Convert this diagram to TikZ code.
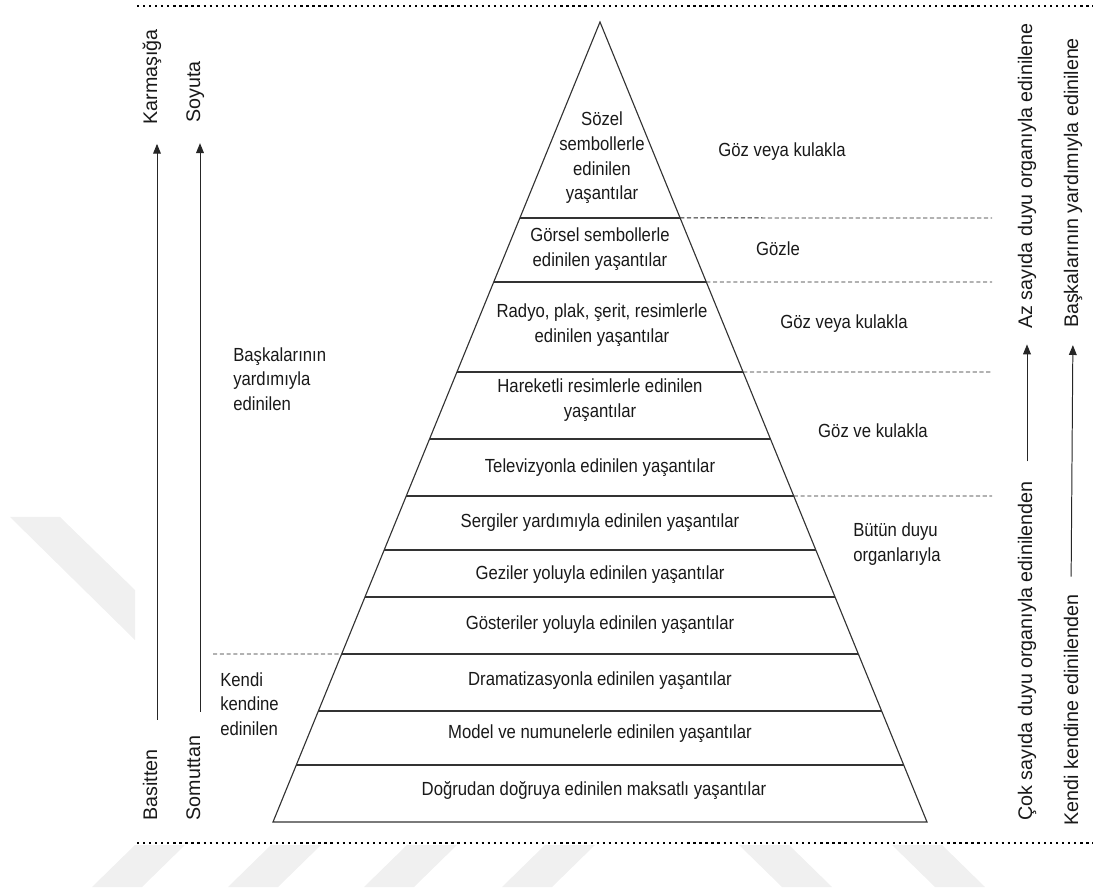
\documentclass[tikz,border=0pt]{standalone}
\usepackage{fontspec}
\setmainfont{Liberation Sans}[FakeStretch=0.88]
\newfontfamily\sidefont{Liberation Sans}
\usetikzlibrary{arrows.meta,calc}

\tikzset{
  lbl/.style={font=\fontsize{13.5}{17.5}\selectfont, text=black!90, inner sep=0pt},
  side/.style={font=\sidefont\fontsize{14}{17}\selectfont, text=black!90, inner sep=0pt, rotate=90},
  layer/.style={draw=black!80, line width=0.8pt},
  gap/.style={draw=black!85, line width=0.7pt, dash pattern=on 3pt off 1.8pt},
  rule/.style={draw=black, line width=1.8pt, dash pattern=on 1.6pt off 2.7pt},
  up/.style={draw=black!85, line width=0.7pt, -{Triangle[length=7pt,width=5.5pt]}},
  wmark/.style={fill=black!6, draw=none},
}

\begin{document}
\begin{tikzpicture}[x=0.025cm, y=-0.025cm]
\useasboundingbox (0,0) rectangle (1093,891);

% watermark
\fill[wmark] (10,517) -- (60,517) -- (135,590) -- (135,640) -- cycle;
\foreach \x in {92,228,364,502}
  \fill[wmark] (\x,887) -- (\x+43,845) -- (\x+93,845) -- (\x+50,887) -- cycle;
\foreach \x in {739,892}
  \fill[wmark] (\x,845) -- (\x+50,845) -- (\x+93,887) -- (\x+43,887) -- cycle;

% dotted rules
\draw[rule] (137,6) -- (1093,6);
\draw[rule] (137,843) -- (1093,843);

% pyramid
\coordinate (top) at (600,22);
\coordinate (bl) at (273,822);
\coordinate (br) at (927,822);
\draw[layer] (bl) -- (top) -- (br) -- cycle;
\foreach \y in {218,282,372,439,496,550,597,654,711,765}
  \draw[layer] ($(top)!{(\y-22)/800}!(bl)$) -- ($(top)!{(\y-22)/800}!(br)$);

% dashed separators
\foreach \y in {218,282,372,496}
  \draw[gap] ($(top)!{(\y-22)/800}!(br)$) -- (992,\y);
\draw[gap] (213,654) -- ($(top)!{632/800}!(bl)$);

% layers
\node[lbl, align=center] (sozel) at (602,158) {Sözel\\sembollerle\\edinilen\\yaşantılar};
\node[lbl, align=center] (gorsel) at (600,249) {Görsel sembollerle\\edinilen yaşantılar};
\node[lbl, align=center] (radyo) at (602,325) {Radyo, plak, şerit, resimlerle\\edinilen yaşantılar};
\node[lbl, align=center] (hareket) at (600,400) {Hareketli resimlerle edinilen\\yaşantılar};
\node[lbl] (tv) at (600,468) {Televizyonla edinilen yaşantılar};
\node[lbl] (sergi) at (600,523) {Sergiler yardımıyla edinilen yaşantılar};
\node[lbl] (gezi) at (600,575) {Geziler yoluyla edinilen yaşantılar};
\node[lbl] (goster) at (600,625) {Gösteriler yoluyla edinilen yaşantılar};
\node[lbl] (drama) at (600,681) {Dramatizasyonla edinilen yaşantılar};
\node[lbl] (model) at (600,734) {Model ve numunelerle edinilen yaşantılar};
\node[lbl] (dogru) at (594,791) {Doğrudan doğruya edinilen maksatlı yaşantılar};

% senses
\node[lbl] (goz1) at (782,152) {Göz veya kulakla};
\node[lbl] (gozle) at (778,249) {Gözle};
\node[lbl] (goz2) at (844,324) {Göz veya kulakla};
\node[lbl] (gozkulak) at (873,431) {Göz ve kulakla};
\node[lbl, align=left, anchor=west] (butun) at (853,544) {Bütün duyu\\organlarıyla};

% left groups
\node[lbl, align=left, anchor=west] (baska) at (233,379) {Başkalarının\\yardımıyla\\edinilen};
\node[lbl, align=left, anchor=west] (kendi) at (220,704) {Kendi\\kendine\\edinilen};

% side axes
\node[side, anchor=base] (karm) at (157,77) {Karmaşığa};
\node[side, anchor=base] (basit) at (157,785) {Basitten};
\node[side, anchor=base] (soyut) at (200,92) {Soyuta};
\node[side, anchor=base] (somut) at (200,778) {Somuttan};
\draw[up, shorten <=21pt, shorten >=13.5pt] (basit.base east) -- (karm.base west);
\draw[up, shorten <=17pt, shorten >=14.4pt] (somut.base east) -- (soyut.base west);

\node[side] (az) at (1027,176) {Az sayıda duyu organıyla edinilene};
\node[side] (cok) at (1027,651) {Çok sayıda duyu organıyla edinilenden};
\node[side] (baskalar) at (1073,183) {Başkalarının yardımıyla edinilene};
\node[side] (kendiside) at (1071,710) {Kendi kendine edinilenden};
\draw[up, shorten <=14pt, shorten >=11pt] (cok.east) -- (az.west);
\draw[up, shorten <=12.5pt, shorten >=12pt] (kendiside.east) -- (baskalar.west);
\end{tikzpicture}
\end{document}
